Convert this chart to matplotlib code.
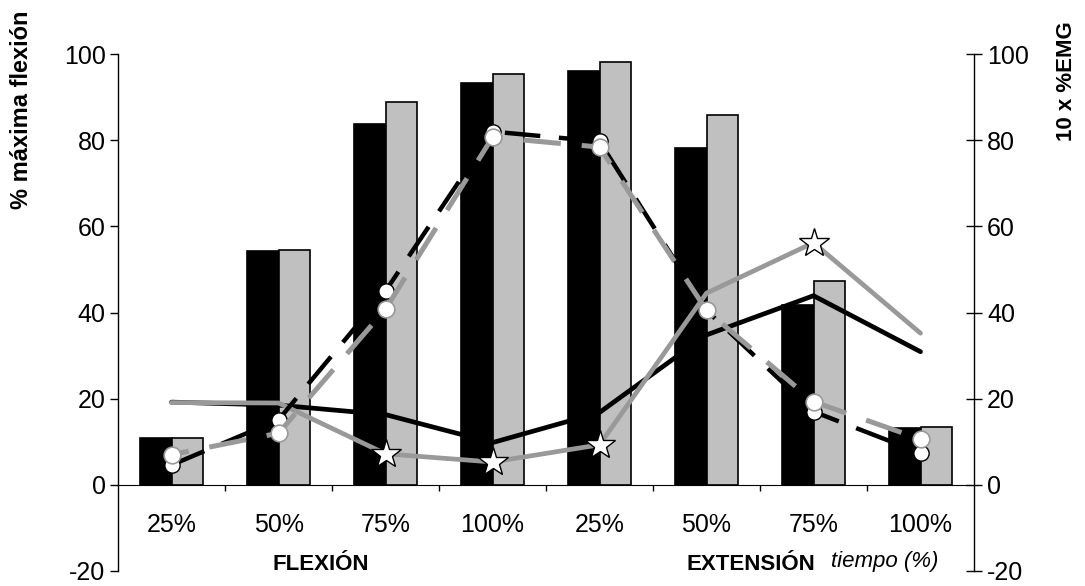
import numpy as np
import matplotlib
matplotlib.use("Agg")
import matplotlib.pyplot as plt

plt.rcParams['font.family'] = ['Liberation Sans', 'DejaVu Sans']
plt.rcParams['axes.unicode_minus'] = False

# datos
categorias = ['25%', '50%', '75%', '100%', '25%', '50%', '75%', '100%']
flex_a = [10.8, 54.2, 83.8, 93.2, 96.1, 78.2, 41.8, 13.1]   # barras negras
flex_b = [10.8, 54.6, 88.8, 95.3, 98.2, 85.9, 47.3, 13.5]   # barras grises
emg_a = [19.2, 18.5, 16.3, 9.8, 16.8, 34.8, 43.9, 30.9]     # linea negra continua
emg_b = [19.1, 19.0, 7.2, 5.3, 9.3, 44.5, 56.2, 35.2]       # linea gris con estrellas
circ_a = [4.6, 15.1, 45.0, 82.0, 79.7, 40.5, 17.0, 7.4]     # discontinua negra
circ_b = [7.0, 12.0, 40.8, 80.7, 78.4, 40.5, 19.3, 10.6]    # discontinua gris

x = np.arange(len(categorias))
gris = '#999999'

fig = plt.figure(figsize=(10.85, 5.86), dpi=100)
ax1 = fig.add_axes([0.1088, 0.0256, 0.7889, 0.8822])

w = 0.295
ax1.bar(x - w / 2, flex_a, w, color='black', edgecolor='black', linewidth=1.2)
ax1.bar(x + w / 2, flex_b, w, color='#C0C0C0', edgecolor='black', linewidth=1.2)

ax1.set_xlim(-0.5, 7.5)
ax1.set_ylim(-20, 100)
ax1.set_yticks([-20, 0, 20, 40, 60, 80, 100])
ax1.spines['top'].set_visible(False)
ax1.spines['right'].set_visible(False)
ax1.spines['bottom'].set_position(('data', 0))
ax1.spines['left'].set_linewidth(1)
ax1.tick_params(axis='y', direction='out', length=6, width=1, labelsize=18, pad=3)
ax1.set_xticks(x)
ax1.set_xticklabels(categorias)
ax1.tick_params(axis='x', which='major', length=0, labelsize=18, pad=20)
ax1.set_xticks(np.arange(0.5, 7.5, 1), minor=True)
ax1.tick_params(axis='x', which='minor', direction='out', length=4.5, width=1)

# eje secundario para el EMG
ax2 = ax1.twinx()
ax2.set_ylim(-20, 100)
ax2.set_yticks([-20, 0, 20, 40, 60, 80, 100])
for s in ['top', 'bottom', 'left']:
    ax2.spines[s].set_visible(False)
ax2.spines['right'].set_linewidth(1)
ax2.tick_params(axis='y', direction='inout', length=11, width=1, labelsize=18, pad=4)

ax2.plot(x, emg_a, color='black', lw=3.4, solid_capstyle='round', solid_joinstyle='miter')
ax2.plot(x, emg_b, color=gris, lw=3.4, solid_capstyle='round', solid_joinstyle='miter',
         marker='*', markevery=[2, 3, 4, 6], markersize=22, markerfacecolor='white',
         markeredgecolor='black', markeredgewidth=1)
ax2.plot(x, circ_a, color='black', lw=3.2, linestyle=(0, (8, 4.2)),
         marker='o', markersize=11, markerfacecolor='white',
         markeredgecolor='black', markeredgewidth=1)
ax2.plot(x, circ_b, color=gris, lw=3.6, linestyle=(4, (7.5, 4.2)),
         marker='o', markersize=12, markerfacecolor='white',
         markeredgecolor=gris, markeredgewidth=1.2)

# rotulos
fig.text(22 / 1085, 1 - 110 / 586, '% máxima flexión', rotation=90, fontsize=17,
         fontweight='bold', ha='center', va='center')
fig.text(1067 / 1085, 1 - 81 / 586, '10 x %EMG', rotation=90, fontsize=16,
         fontweight='bold', ha='center', va='center')
fig.text(321 / 1085, 1 - 565 / 586, 'FLEXIÓN', fontsize=16, fontweight='bold',
         ha='center', va='center')
fig.text(751 / 1085, 1 - 565 / 586, 'EXTENSIÓN', fontsize=16, fontweight='bold',
         ha='center', va='center')
fig.text(885 / 1085, 1 - 561 / 586, 'tiempo (%)', fontsize=16, style='italic',
         ha='center', va='center')

fig.savefig('out.png', dpi=100)
